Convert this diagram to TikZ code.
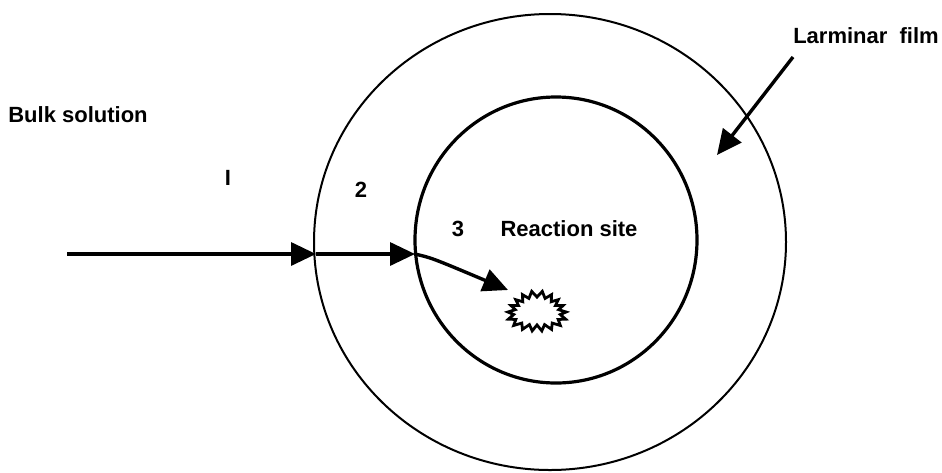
\documentclass[tikz,border=0pt]{standalone}
\usepackage{fontspec}
\setmainfont{Liberation Sans}
\usetikzlibrary{arrows.meta}
\begin{document}
\begin{tikzpicture}[x=1pt,y=-1pt,
  lbl/.style={font=\bfseries\fontsize{22}{25}\selectfont, inner sep=0pt},
  flow/.style={line width=3.4pt, -{Triangle[length=25pt,width=23pt]}},
  ring/.style={draw=black}]
\useasboundingbox[fill=white] (0,0) rectangle (942,472);
% circles
\draw[ring, line width=2pt] (550,242) ellipse [x radius=236, y radius=228];
\draw[ring, line width=3.2pt] (556,240) ellipse [x radius=141, y radius=143];
% labels
\node[lbl] (bulk) at (78,115) {Bulk solution};
\node[lbl] (one) at (228,178) {I};
\node[lbl] (two) at (361,190) {2};
\node[lbl] (three) at (458,229) {3};
\node[lbl] (site) at (569,229) {Reaction site};
\node[lbl] (film) at (866,36) {Larminar\ \ film};
% coordinates
\coordinate (start) at (67,254);
\coordinate (outerhit) at (316,254);
\coordinate (innerhit) at (415,254);
\coordinate (tip) at (508,290);
\coordinate (filmstart) at (793,57);
\coordinate (filmtip) at (717,155);
% arrows
\draw[flow] (start) -- (outerhit);
\draw[flow] (outerhit) -- (innerhit);
\draw[flow] (innerhit) .. controls (432,258) .. (tip);
\draw[flow] (filmstart) -- (filmtip);
% reaction site star
\draw[line width=2.8pt, line join=miter] plot[samples=37, domain=0:360, variable=\t]
  ({537+26*(1+0.12*cos(18*\t)+0.06*sin(3*\t))*cos(\t)},
   {312+17*(1+0.18*cos(18*\t)+0.06*sin(3*\t))*sin(\t)}) -- cycle;
\end{tikzpicture}
\end{document}
